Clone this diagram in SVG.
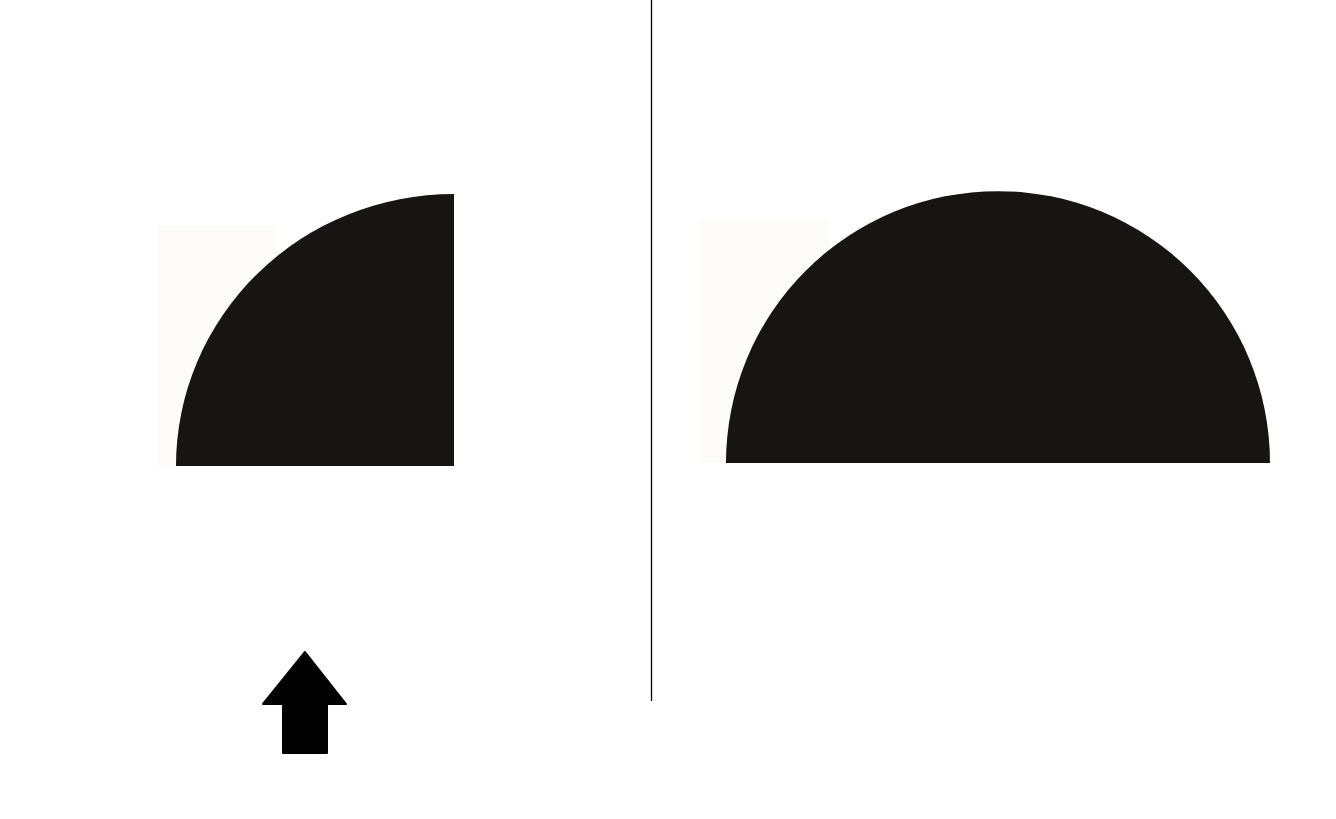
<svg xmlns="http://www.w3.org/2000/svg" width="1336" height="819" viewBox="0 0 1336 819">
<style>
.shape{fill:#171413}
.bg{fill:#fdfcfb}
.divider{stroke:#000;stroke-width:1.3;fill:none}
.arrow{fill:#000;stroke:#000;stroke-width:2;stroke-linejoin:round}
</style>
<rect width="1336" height="819" fill="#ffffff"/>
<g id="left-shape">
<rect class="bg" x="157" y="225" width="120" height="241"/>
<path class="shape" d="M176,466 A278,272 0 0 1 454,194 L454,466 Z"/>
</g>
<g id="right-shape">
<rect class="bg" x="700" y="220" width="130" height="243"/>
<path class="shape" d="M726,463 A272,272 0 0 1 1270,463 Z"/>
</g>
<g id="connectors">
<line class="divider" x1="651.5" y1="0" x2="651.5" y2="701"/>
</g>
<g id="arrow">
<path class="arrow" d="M305,652 L346,704 L327,704 L327,753 L283,753 L283,704 L263,704 Z"/>
</g>
</svg>
